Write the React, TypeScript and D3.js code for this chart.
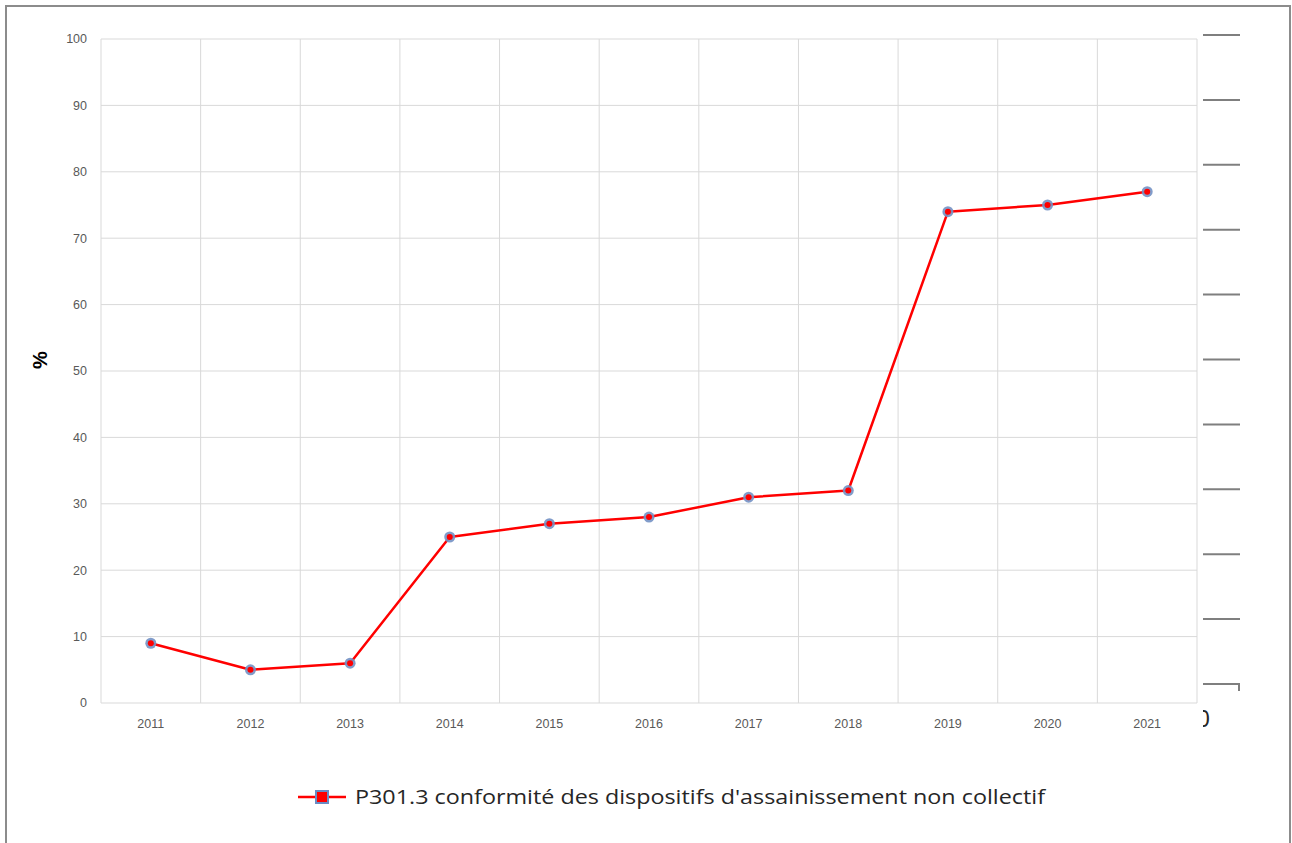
import React from "react";
import * as d3 from "d3";

const years = ["2011","2012","2013","2014","2015","2016","2017","2018","2019","2020","2021"];
const values = [9, 5, 6, 25, 27, 28, 31, 32, 74, 75, 77];
const yTicks = [0, 10, 20, 30, 40, 50, 60, 70, 80, 90, 100];
const seriesName = "P301.3 conformité des dispositifs d'assainissement non collectif";
const rightTicks = [0, 1, 2, 3, 4, 5, 6, 7, 8, 9, 10];

export default function App() {
  const W = 1292, H = 843;
  const left = 101, right = 1197, top = 39, bottom = 703;
  const x = d3.scaleBand().domain(years).range([left, right]);
  const y = d3.scaleLinear().domain([0, 100]).range([bottom, top]);
  const yr = d3.scaleLinear().domain([0, 10]).range([684, 35]);
  const line = d3.line<number>()
    .x((_, i) => (x(years[i]) as number) + x.bandwidth() / 2)
    .y(d => y(d));
  const font = "Liberation Sans, Arial, sans-serif";
  return (
    <svg width={W} height={H} style={{ position: "absolute", left: 0, top: 0, background: "#fff" }}>
      <defs>
        <clipPath id="clip0"><rect x={1203} y={700} width={40} height={40} /></clipPath>
      </defs>
      <rect x={6} y={6} width={1284} height={H} fill="#fff" stroke="#8c8c8c" strokeWidth={2} />
      {yTicks.map(t => (
        <line key={"h" + t} x1={left} x2={right} y1={y(t)} y2={y(t)} stroke="#d9d9d9" strokeWidth={1} />
      ))}
      {years.map(yy => (
        <line key={"v" + yy} x1={x(yy) as number} x2={x(yy) as number} y1={top} y2={bottom} stroke="#d9d9d9" strokeWidth={1} />
      ))}
      <line x1={right} x2={right} y1={top} y2={bottom} stroke="#d9d9d9" strokeWidth={1} />
      {yTicks.map(t => (
        <text key={"yl" + t} x={87} y={y(t)} dy="0.35em" textAnchor="end" fontFamily={font} fontSize={12.5} fill="#595959">{t}</text>
      ))}
      {years.map(yy => (
        <text key={"xl" + yy} x={(x(yy) as number) + x.bandwidth() / 2} y={728} textAnchor="middle" fontFamily={font} fontSize={12.5} fill="#595959">{yy}</text>
      ))}
      <text transform="translate(47,360) rotate(-90)" textAnchor="middle" fontFamily={font} fontSize={20} fontWeight="bold" fill="#000">%</text>
      {rightTicks.map(t => (
        <line key={"r" + t} x1={1203} x2={1240} y1={yr(t)} y2={yr(t)} stroke="#7f7f7f" strokeWidth={2} />
      ))}
      <line x1={1239} x2={1239} y1={yr(0)} y2={yr(0) + 7} stroke="#7f7f7f" strokeWidth={2} />
      <text x={1197} y={727} fontFamily={font} fontSize={23} fill="#262626" clipPath="url(#clip0)">0</text>
      <path d={line(values) || ""} fill="none" stroke="#ff0000" strokeWidth={2.5} strokeLinejoin="round" />
      {values.map((v, i) => (
        <g key={"p" + i}>
          <circle cx={(x(years[i]) as number) + x.bandwidth() / 2} cy={y(v)} r={5.5} fill="#7391c4" opacity={0.9} />
          <circle cx={(x(years[i]) as number) + x.bandwidth() / 2} cy={y(v)} r={3} fill="#ff0000" />
        </g>
      ))}
      <line x1={298} x2={346} y1={797} y2={797} stroke="#ff0000" strokeWidth={2.5} />
      <rect x={316} y={791} width={12} height={12} fill="#ff0000" stroke="#6a8cc4" strokeWidth={2} />
      <text x={355} y={804} fontFamily="Open Sans, sans-serif" fontSize={20} fill="#262626" textLength={690} lengthAdjust="spacingAndGlyphs">{seriesName}</text>
    </svg>
  );
}
